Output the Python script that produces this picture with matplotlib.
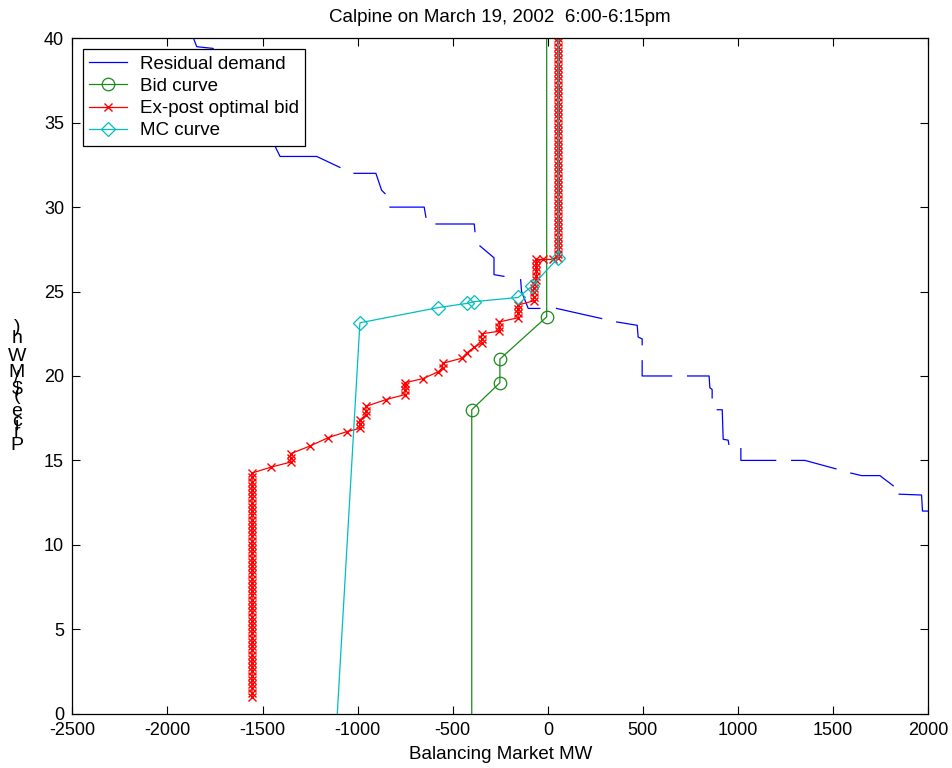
"""Calpine bid / residual demand chart, March 19, 2002 6:00-6:15pm."""

import matplotlib
matplotlib.use("Agg")
import matplotlib.pyplot as plt
from matplotlib import font_manager
from matplotlib.ft2font import FT2Font

OUT_FIG = "out.png"
FONT = "Liberation Sans"

TITLE = "Calpine on March 19, 2002  6:00-6:15pm"
XLABEL = "Balancing Market MW"
YLABEL = "Price ($/MWh)"

X_TICKS = [-2500, -2000, -1500, -1000, -500, 0, 500, 1000, 1500, 2000]
Y_TICKS = [0, 5, 10, 15, 20, 25, 30, 35, 40]

nan = float("nan")

# Residual demand (gaps are where the original trace breaks up)
RESID_MW = [
    -1880, -1846, -1761, -1700, -1600, -1500, -1434, -1408, -1321, -1215, -1093, nan,
    -1019, -904, -874, -856, nan,
    -830, -650, -641, nan,
    -588, -387, -383, nan,
    -357, -283, -283, -231, nan,
    -143, -138, -103, -42, nan,
    46, 283, nan,
    362, 470, 475, 496, 496, nan,
    496, 496, 651, nan,
    735, 848, 852, 864, 864, nan,
    891, 917, 922, 948, 952, nan,
    1015, 1015, 1198, nan,
    1282, 1352, 1515, nan,
    1593, 1650, 1746, 1816, nan,
    1847, 1965, 1970, 2050,
]
RESID_PRICE = [
    40.5, 39.5, 39.4, 38.5, 37.0, 35.0, 33.6, 33.0, 33.0, 33.0, 32.35, nan,
    32.0, 32.0, 31.0, 30.8, nan,
    30.0, 30.0, 29.4, nan,
    29.0, 29.0, 28.55, nan,
    27.7, 27.0, 26.0, 25.9, nan,
    25.7, 25.0, 24.0, 24.0, nan,
    24.0, 23.4, nan,
    23.2, 23.0, 22.3, 22.2, 21.85, nan,
    20.9, 20.0, 20.0, nan,
    20.0, 20.0, 19.3, 19.2, 18.7, nan,
    18.0, 18.0, 16.25, 16.2, 15.95, nan,
    15.7, 15.0, 15.0, nan,
    15.0, 15.0, 14.5, nan,
    14.25, 14.1, 14.1, 13.5, nan,
    13.0, 12.95, 12.0, 12.0,
]

# Calpine's actual bid curve
BID_MW = [-400, -400, -252, -252, -6, -6]
BID_PRICE = [-1.0, 18.0, 19.6, 21.0, 23.5, 41.0]

# Ex-post optimal bid: low vertical block, stepped middle, high vertical block
OPT_LOW_MW = -1555
OPT_LOW_PRICE = [
    1.0, 1.25, 1.5, 1.75, 2.0, 2.25, 2.5, 2.75, 3.0, 3.25, 3.5, 3.75,
    4.0, 4.25, 4.5, 4.75, 5.0, 5.25, 5.5, 5.75, 6.0, 6.25, 6.5, 6.75,
    7.0, 7.25, 7.5, 7.75, 8.0, 8.25, 8.5, 8.75, 9.0, 9.25, 9.5, 9.75,
    10.0, 10.25, 10.5, 10.75, 11.0, 11.25, 11.5, 11.75, 12.0, 12.25, 12.5, 12.75,
    13.0, 13.25, 13.5, 13.75, 14.0, 14.25,
]
OPT_MID_MW = [
    -1456, -1352, -1352, -1352, -1251, -1154, -1058, -988, -988, -988,
    -956, -956, -956, -851, -751, -751, -751, -751, -655, -576,
    -553, -553, -453, -427, -388, -348, -348, -348, -255, -255,
    -255, -156, -156, -156, -156, -75, -75, -75, -75, -75,
    -60, -60, -60, -60, -60, -60, -25, 25,
]
OPT_MID_PRICE = [
    14.6, 14.9, 15.15, 15.4, 15.85, 16.35, 16.7, 16.9, 17.15, 17.4,
    17.7, 17.95, 18.2, 18.6, 18.9, 19.15, 19.4, 19.6, 19.85, 20.25,
    20.5, 20.75, 21.05, 21.35, 21.7, 21.95, 22.2, 22.5, 22.65, 22.9,
    23.2, 23.45, 23.7, 23.95, 24.2, 24.45, 24.7, 24.95, 25.2, 25.45,
    25.7, 25.95, 26.2, 26.45, 26.7, 26.9, 26.9, 26.9,
]
OPT_HIGH_MW = 55
OPT_HIGH_PRICE = [
    27.0, 27.25, 27.5, 27.75, 28.0, 28.25, 28.5, 28.75, 29.0, 29.25, 29.5, 29.75,
    30.0, 30.25, 30.5, 30.75, 31.0, 31.25, 31.5, 31.75, 32.0, 32.25, 32.5, 32.75,
    33.0, 33.25, 33.5, 33.75, 34.0, 34.25, 34.5, 34.75, 35.0, 35.25, 35.5, 35.75,
    36.0, 36.25, 36.5, 36.75, 37.0, 37.25, 37.5, 37.75, 38.0, 38.25, 38.5, 38.75,
    39.0, 39.25, 39.5, 39.75, 40.0,
]

# Marginal cost curve
MC_MW = [-1107, -988, -576, -424, -388, -156, -85, 55, 55]
MC_PRICE = [0.0, 23.15, 24.05, 24.3, 24.4, 24.65, 25.3, 27.0, 41.0]


def stacked_label(fig, text, x_px, y_px, size):
    # the original y label came out as upright glyphs stacked bottom-to-top
    path = font_manager.findfont(font_manager.FontProperties(family=FONT))
    ft = FT2Font(path)
    ft.set_size(size, fig.dpi)
    w, h = fig.bbox.width, fig.bbox.height
    y = y_px
    for ch in text:
        fig.text(x_px / w, y / h, ch, ha="center", va="baseline",
                 fontsize=size, family=FONT)
        glyph = ft.load_char(ord(ch))
        y += glyph.linearHoriAdvance / 65536.0


def main():
    plt.rcParams["axes.unicode_minus"] = False
    fig = plt.figure(figsize=(9.52, 7.68), dpi=100)
    ax = fig.add_axes([0.076, 0.0707, 0.899, 0.8795])

    opt_mw = [OPT_LOW_MW] * len(OPT_LOW_PRICE) + OPT_MID_MW + [OPT_HIGH_MW] * len(OPT_HIGH_PRICE)
    opt_price = OPT_LOW_PRICE + OPT_MID_PRICE + OPT_HIGH_PRICE

    ax.plot(RESID_MW, RESID_PRICE, color="#0000ff", linewidth=0.9, label="Residual demand")
    ax.plot(BID_MW, BID_PRICE, color="#1a8a1a", linewidth=0.9, marker="o",
            markersize=9, markerfacecolor="none", markeredgewidth=0.9,
            markevery=[1, 2, 3, 4], label="Bid curve")
    ax.plot(opt_mw, opt_price, color="#ff0000", linewidth=0.9, marker="x",
            markersize=6, markeredgewidth=1.0, label="Ex-post optimal bid")
    ax.plot(MC_MW, MC_PRICE, color="#00bfbf", linewidth=0.9, marker="D",
            markersize=7.5, markerfacecolor="none", markeredgewidth=0.9,
            markevery=[1, 2, 3, 4, 5, 6, 7], label="MC curve")

    ax.set_xlim(-2500, 2000)
    ax.set_ylim(0, 40)
    ax.set_xticks(X_TICKS)
    ax.set_yticks(Y_TICKS)
    ax.tick_params(direction="in", length=6, width=0.8, top=True, right=True,
                   labelsize=13, pad=6)
    for lab in ax.get_xticklabels() + ax.get_yticklabels():
        lab.set_family(FONT)
    for sp in ax.spines.values():
        sp.set_linewidth(0.9)

    ax.set_title(TITLE, fontsize=13.5, family=FONT, pad=12)
    ax.set_xlabel(XLABEL, fontsize=13.5, family=FONT, labelpad=5)

    leg = ax.legend(loc="upper left", bbox_to_anchor=(0.012, 0.984),
                    prop={"family": FONT, "size": 13.5}, fancybox=False,
                    framealpha=1, edgecolor="black", borderpad=0.35,
                    labelspacing=0.27, handlelength=2.0, handletextpad=0.7,
                    borderaxespad=0.0, markerscale=1.0)
    leg.get_frame().set_linewidth(0.9)

    stacked_label(fig, YLABEL, 17, 318, 14)

    fig.savefig(OUT_FIG, dpi=100)
    plt.close(fig)


if __name__ == "__main__":
    main()
